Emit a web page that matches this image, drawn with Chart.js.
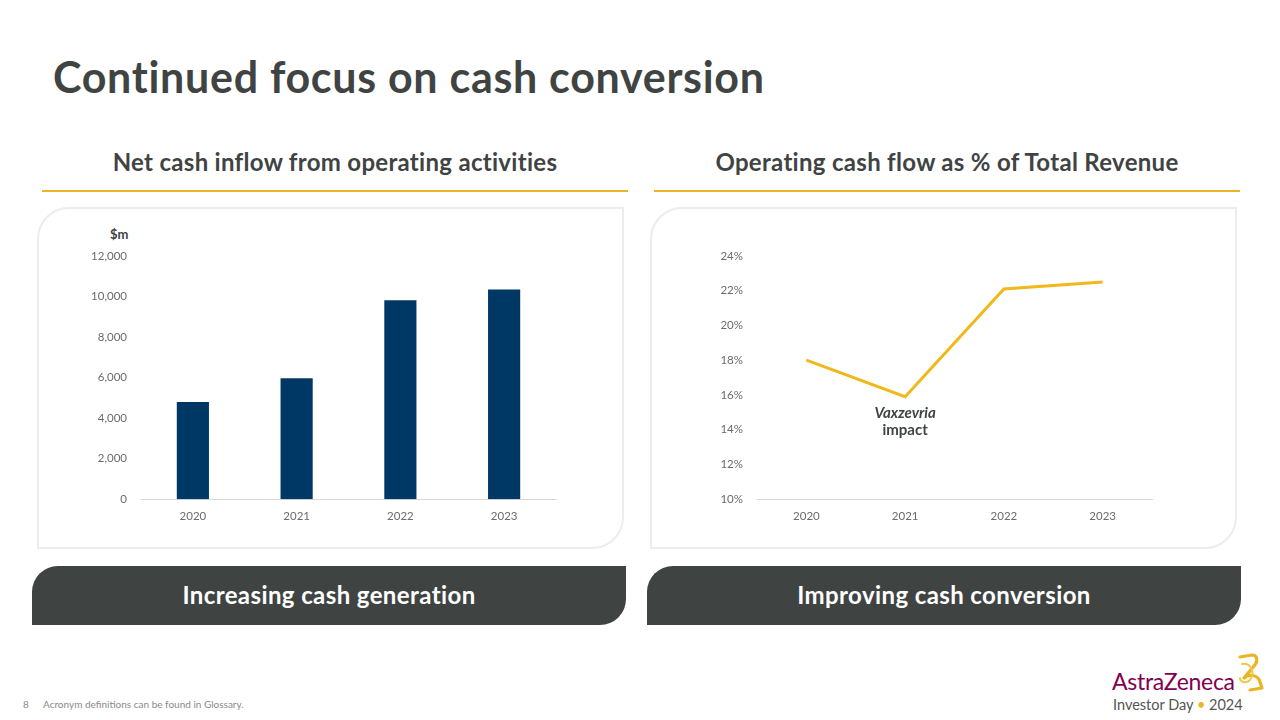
<!DOCTYPE html>
<html>
<head>
<meta charset="utf-8">
<script src="https://cdn.jsdelivr.net/npm/chart.js@4/dist/chart.umd.min.js"></script>
<style>
  body { margin: 0; width: 1280px; height: 720px; background: #fff; position: relative; overflow: hidden; font-family: Lato, "Open Sans", sans-serif; color: #3f4443; }
  .abs { position: absolute; }
  h1 { position: absolute; left: 53px; top: 51px; margin: 0; font-size: 43px; font-weight: 700; color: #3f4443; letter-spacing: 0.7px; }
  .sub { position: absolute; top: 147px; font-size: 24px; font-weight: 700; text-align: center; width: 586px; letter-spacing: 0.3px; }
  .rule { position: absolute; top: 190px; height: 2px; background: #e9b522; }
  .panel { position: absolute; top: 207px; height: 338px; border: 2px solid #ececec; border-radius: 32px 0 32px 0; }
  .band { position: absolute; top: 566px; height: 59px; background: #3f4443; color: #fff; border-radius: 26px 0 26px 0; font-size: 24px; font-weight: 700; text-align: center; line-height: 58px; letter-spacing: 0.4px; }
  canvas { position: absolute; }
</style>
</head>
<body>
<h1>Continued focus on cash conversion</h1>

<div class="sub" style="left:42px">Net cash inflow from operating activities</div>
<div class="sub" style="left:654px">Operating cash flow as % of Total Revenue</div>
<div class="rule" style="left:42px;width:586px"></div>
<div class="rule" style="left:654px;width:586px"></div>

<div class="panel" style="left:37px;width:583px"></div>
<div class="panel" style="left:650px;width:583px"></div>

<div class="abs" style="left:110px;top:226px;font-size:13px;font-weight:700;">$m</div>

<div style="position:absolute;left:80px;top:243px;width:486px;height:282px"><canvas id="barChart"></canvas></div>
<div style="position:absolute;left:696px;top:243px;width:466px;height:282px"><canvas id="lineChart"></canvas></div>

<div class="band" style="left:32px;width:594px">Increasing cash generation</div>
<div class="band" style="left:647px;width:594px">Improving cash conversion</div>

<div class="abs" style="left:23px;top:698px;font-size:10px;color:#8a8a8a">8</div>
<div class="abs" style="left:43px;top:698px;font-size:10px;color:#8a8a8a">Acronym definitions can be found in Glossary.</div>

<div class="abs" style="left:1112px;top:667px;font-size:23px;color:#830051;letter-spacing:-0.3px">AstraZeneca</div>
<div class="abs" style="left:1113px;top:696px;font-size:14.5px;color:#555">Investor Day <span style="color:#e9b522">&#8226;</span> 2024</div>
<svg class="abs" style="left:1232px;top:652px" width="34" height="42" viewBox="0 0 34 42">
  <path d="M8 5 L20 3 C26 3 26 10 22 14 L12 26 C16 22 26 22 28 30 L30 36 L18 38" fill="none" stroke="#e9b522" stroke-width="3.2" stroke-linejoin="round" stroke-linecap="round"/>
  <path d="M10 12 C18 10 24 20 18 28 C14 32 8 30 8 26" fill="none" stroke="#f0c84a" stroke-width="2" stroke-linecap="round"/>
</svg>

<script>
const years = ['2020', '2021', '2022', '2023'];
const netCashInflow = [4799, 5963, 9808, 10345];
const cashConversionPct = [18.0, 15.9, 22.1, 22.5];

const tickFont = { family: 'Lato, "Open Sans", sans-serif', size: 11.5 };
const tickColor = '#6b6b6b';

new Chart(document.getElementById('barChart').getContext('2d'), {
    type: 'bar',
    data: {
        labels: years,
        datasets: [{
            label: 'Net cash inflow',
            data: netCashInflow,
            backgroundColor: '#003865',
            categoryPercentage: 1,
            barPercentage: 0.31
        }]
    },
    options: {
        responsive: true,
        maintainAspectRatio: false,
        animation: false,
        plugins: { legend: { display: false }, tooltip: { enabled: false } },
        layout: { padding: { top: 10, right: 10 } },
        scales: {
            x: {
                grid: { display: false },
                border: { display: true, color: '#d9d9d9', width: 1 },
                ticks: { color: tickColor, font: tickFont, padding: 2 }
            },
            y: {
                min: 0, max: 12000,
                afterFit: (s) => { s.width = 61; },
                grid: { display: false },
                border: { display: false },
                ticks: {
                    stepSize: 2000, color: tickColor, font: tickFont, padding: 6,
                    callback: (v) => v.toLocaleString('en-US')
                }
            }
        }
    }
});

const annotation = {
    id: 'vaxzevria',
    afterDatasetsDraw(chart) {
        const { ctx, scales } = chart;
        const x = scales.x.getPixelForValue(1);
        const y = scales.y.getPixelForValue(cashConversionPct[1]);
        ctx.save();
        ctx.fillStyle = '#3f4443';
        ctx.textAlign = 'center';
        ctx.textBaseline = 'middle';
        ctx.font = 'italic 700 15px Lato, "Open Sans", sans-serif';
        ctx.fillText('Vaxzevria', x, y + 16);
        ctx.font = '700 15px Lato, "Open Sans", sans-serif';
        ctx.fillText('impact', x, y + 33);
        ctx.restore();
    }
};

new Chart(document.getElementById('lineChart').getContext('2d'), {
    type: 'line',
    data: {
        labels: years,
        datasets: [{
            label: 'Operating cash flow % of revenue',
            data: cashConversionPct,
            borderColor: '#f0b81a',
            borderWidth: 3,
            pointRadius: 0,
            tension: 0,
            fill: false
        }]
    },
    options: {
        responsive: true,
        maintainAspectRatio: false,
        animation: false,
        plugins: { legend: { display: false }, tooltip: { enabled: false } },
        layout: { padding: { top: 10, right: 10 } },
        scales: {
            x: {
                offset: true,
                grid: { display: false },
                border: { display: true, color: '#d9d9d9', width: 1 },
                ticks: { color: tickColor, font: tickFont, padding: 2 }
            },
            y: {
                min: 10, max: 24,
                afterFit: (s) => { s.width = 61; },
                grid: { display: false },
                border: { display: false },
                ticks: {
                    stepSize: 2, color: tickColor, font: tickFont, padding: 6,
                    callback: (v) => v + '%'
                }
            }
        }
    },
    plugins: [annotation]
});
</script>
</body>
</html>
